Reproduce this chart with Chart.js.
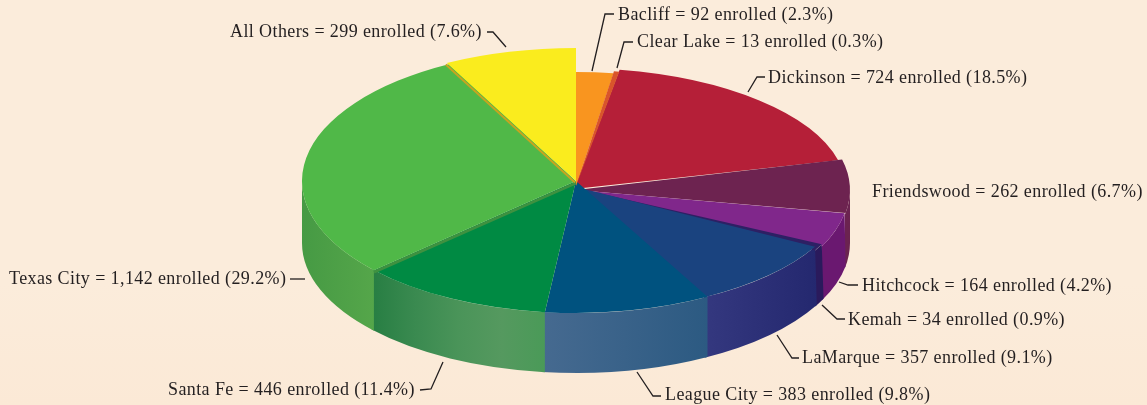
<!DOCTYPE html>
<html>
<head>
<meta charset="utf-8">
<title>Enrollment by district</title>
<script src="https://cdn.jsdelivr.net/npm/chart.js@4"></script>
<style>
  html, body { margin: 0; padding: 0; width: 1147px; height: 405px; overflow: hidden; }
  body { background: linear-gradient(180deg, #fbecdb 0%, #fbecdb 70%, #fbe9d6 100%); }
  canvas { display: block; }
</style>
</head>
<body>
<canvas id="pie" width="1147" height="405"></canvas>
<script>
const categories = ["Bacliff", "Clear Lake", "Dickinson", "Friendswood", "Hitchcock", "Kemah", "LaMarque", "League City", "Santa Fe", "Texas City", "All Others"];
const enrolled = [92, 13, 724, 262, 164, 34, 357, 383, 446, 1142, 299];
const percents = ["2.3", "0.3", "18.5", "6.7", "4.2", "0.9", "9.1", "9.8", "11.4", "29.2", "7.6"];
const topColors = ["#f9951f", "#d9552b", "#b51f38", "#6d2350", "#80278b", "#2d2064", "#1a437f", "#00527f", "#008a43", "#50b848", "#faec1e"];
// wall colours, left to right
const wallColors = [
  ["#f9951f"], ["#d9552b"], ["#b51f38"], ["#6b2350"], ["#6a1870"], ["#2a1a5c"],
  ["#34387f", "#24286f"], ["#466a90", "#2c5a82"],
  ["#277e43", "#3a8a50", "#4a9459", "#55995f", "#4a9a58"],
  ["#469a44", "#55a64a"], ["#faec1e"]
];
// each slice sits a little differently in the tilted drawing: [cx, cy, rx, ry]
const sliceEllipse = [
  [576, 186, 255, 114], [576, 186, 258, 116], [574, 189, 272, 121], [576, 190, 274, 128],
  [576, 190, 273, 130], [576, 188, 272, 131], [576, 187, 272, 125], [576, 181, 274, 132],
  [576, 181, 274, 132], [576, 181, 274, 132], [576, 181, 280, 133]
];
const baseEllipse = [576, 243, 274, 130];
const drawOrder = [2, 3, 4, 5, 6, 7, 8, 9, 10, 0, 1];
// thin darker edge along the start of a slice: slice, dx, dy, width, colour
const seams = [[9, 0, 2, 3, "#3f9140"], [10, -1, 1.5, 2, "#c8a41f"]];

const labelFont = '18px "Liberation Serif"';
const labelSpacing = "0.4px";
// text x, baseline y
const labelPos = [[618, 20], [637, 47], [768, 83], [872, 197], [862, 291], [848, 325], [802, 363], [665, 400], [168, 395], [9, 284], [230, 37]];
const leaders = [
  [[592, 71], [605, 14], [614, 14]],
  [[617, 68], [624, 42], [633, 42]],
  [[748, 92], [757, 77], [765, 77]],
  [],
  [[839, 282], [848, 285], [858, 285]],
  [[822, 305], [837, 319], [845, 319]],
  [[777, 335], [792, 358], [799, 358]],
  [[637, 372], [653, 396], [661, 396]],
  [[443, 362], [431, 389], [420, 390]],
  [[290, 279], [305, 279]],
  [[506, 47], [493, 32], [487, 32]]
];

function wallPath(ctx, e, a1, a2) {
  ctx.beginPath();
  ctx.ellipse(e[0], e[1], e[2], e[3], 0, a1, a2);
  ctx.ellipse(baseEllipse[0], baseEllipse[1], baseEllipse[2], baseEllipse[3], 0, a2, a1, true);
  ctx.closePath();
}

const tiltedPie = {
  id: "tiltedPie",
  beforeDatasetsDraw(chart) {
    const ctx = chart.ctx;
    const arcs = chart.getDatasetMeta(0).data;

    // side walls, each one runs slightly under the next so no seam shows
    arcs.forEach((arc, i) => {
      const a1 = Math.max(arc.startAngle, 0);
      const a2 = Math.min(arc.endAngle + 0.012, Math.PI);
      if (a2 <= a1) return;
      const xs = [Math.cos(a1), Math.cos(a2)].map(c => baseEllipse[0] + baseEllipse[2] * c);
      const g = ctx.createLinearGradient(Math.min(...xs), 0, Math.max(...xs), 0);
      const stops = wallColors[i];
      stops.forEach((c, k) => g.addColorStop(stops.length > 1 ? k / (stops.length - 1) : 0, c));
      ctx.fillStyle = g;
      wallPath(ctx, sliceEllipse[i], a1, a2);
      ctx.fill();
    });

    // top faces, the library's arcs squashed onto each ellipse
    drawOrder.forEach(i => {
      const arc = arcs[i], e = sliceEllipse[i];
      seams.filter(s => s[0] === i).forEach(([, dx, dy, width, color]) => {
        ctx.strokeStyle = color;
        ctx.lineWidth = width;
        ctx.beginPath();
        ctx.moveTo(e[0] + dx, e[1] + dy);
        ctx.lineTo(e[0] + dx + e[2] * Math.cos(arc.startAngle), e[1] + dy + e[3] * Math.sin(arc.startAngle));
        ctx.stroke();
      });
      ctx.save();
      ctx.translate(e[0], e[1]);
      ctx.scale(e[2] / arc.outerRadius, e[3] / arc.outerRadius);
      ctx.translate(-arc.x, -arc.y);
      arc.draw(ctx);
      ctx.restore();
    });
    return false;
  },
  afterDraw(chart) {
    const ctx = chart.ctx;
    ctx.save();
    ctx.strokeStyle = "#231f20";
    ctx.lineWidth = 1.3;
    leaders.forEach(pts => {
      if (!pts.length) return;
      ctx.beginPath();
      pts.forEach((p, k) => k ? ctx.lineTo(p[0], p[1]) : ctx.moveTo(p[0], p[1]));
      ctx.stroke();
    });
    ctx.fillStyle = "#231f20";
    ctx.font = labelFont;
    ctx.letterSpacing = labelSpacing;
    ctx.textBaseline = "alphabetic";
    categories.forEach((name, i) => {
      const text = name + " = " + enrolled[i].toLocaleString("en-US") + " enrolled (" + percents[i] + "%)";
      ctx.fillText(text, labelPos[i][0], labelPos[i][1]);
    });
    ctx.restore();
  }
};

new Chart(document.getElementById("pie"), {
  type: "pie",
  data: {
    labels: categories,
    datasets: [{
      data: enrolled,
      backgroundColor: topColors,
      borderWidth: 0
    }]
  },
  options: {
    responsive: false,
    animation: false,
    plugins: { legend: { display: false }, tooltip: { enabled: false } }
  },
  plugins: [tiltedPie]
});
</script>
</body>
</html>
